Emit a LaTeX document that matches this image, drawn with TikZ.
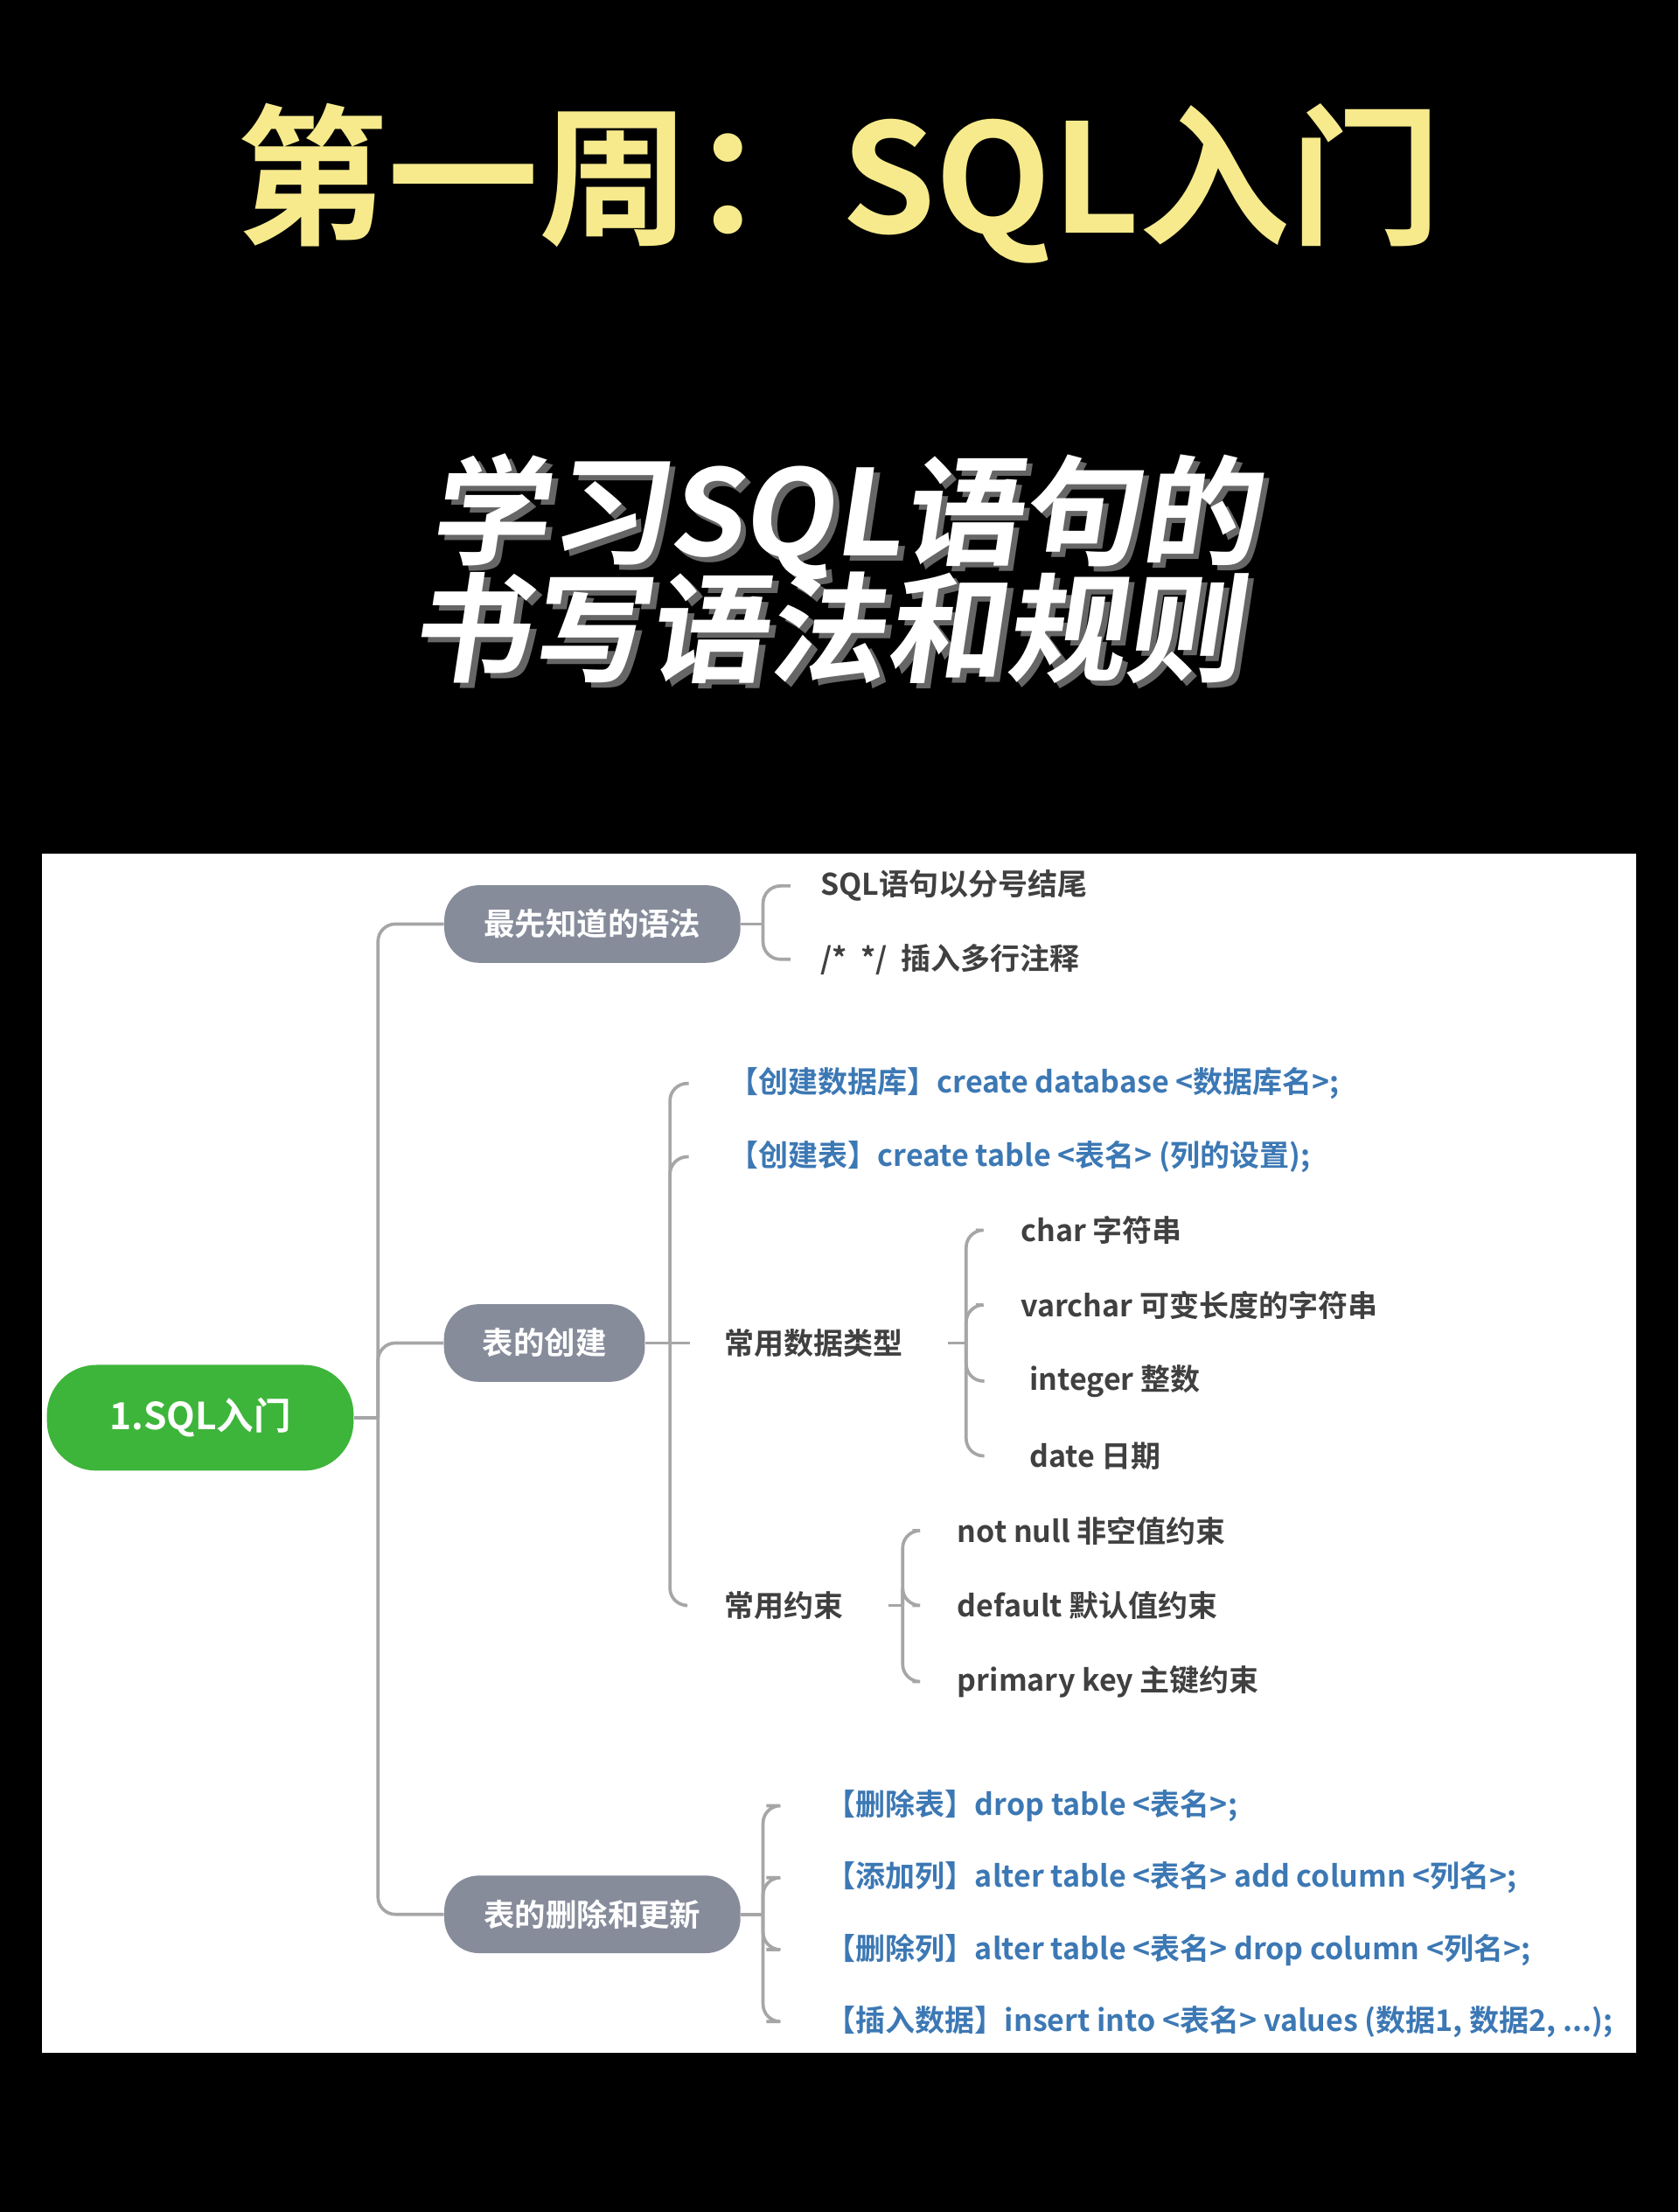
\documentclass[tikz,border=0pt]{standalone}
\usepackage{fontspec}
\setmainfont{Noto Sans CJK SC}
\newfontfamily\cjkb[BoldFont=* Bold]{Noto Sans CJK SC}
\begin{document}
\begin{tikzpicture}[x=0.02cm,y=-0.02cm,
  gnode/.style={fill=nodegrey, rounded corners=14pt, text=white, font=\cjkb\bfseries\fontsize{12.5}{14}\selectfont, minimum height=1.1cm, inner xsep=10pt},
  item/.style={anchor=west, text=black!75, font=\cjkb\bfseries\fontsize{12}{14}\selectfont, inner sep=2pt},
  bitem/.style={item, text=itemblue},
  ln/.style={draw=gray!70, line width=1.3pt, rounded corners=7pt}]
\definecolor{ttl}{HTML}{F6EA8C}
\definecolor{nodegrey}{HTML}{878C9B}
\definecolor{itemblue}{HTML}{3C78B4}
\definecolor{rootgreen}{HTML}{3DB53A}
\fill[black] (0,0) rectangle (1190,1568);
\useasboundingbox (0,0) rectangle (1190,1568);
\node[text=ttl, font=\cjkb\bfseries\fontsize{61}{63}\selectfont] (t1) at (595,130) {第一周：SQL入门};
\node[text=black!60, font=\cjkb\bfseries\fontsize{48}{50}\selectfont, xslant=0.15, align=center] at (601,407) {学习SQL语句的\\[-4pt]书写语法和规则};
\node[text=white, font=\cjkb\bfseries\fontsize{48}{50}\selectfont, xslant=0.15, align=center] (t2) at (597,403) {学习SQL语句的\\[-4pt]书写语法和规则};
\fill[white] (30,605) rectangle (1160,1455);
% root
\node[fill=rootgreen, text=white, rounded corners=20pt, minimum width=4.35cm, minimum height=1.5cm, font=\cjkb\bfseries\fontsize{15}{16}\selectfont] (root) at (142,1005) {1.SQL入门};
\node[gnode, minimum width=4.2cm] (n1) at (420,655) {最先知道的语法};
\node[gnode, minimum width=2.85cm] (n2) at (386,952) {表的创建};
\node[gnode, minimum width=4.2cm] (n3) at (420,1357) {表的删除和更新};
\coordinate (rb) at (268,1005);
\draw[ln] (root.east) -- (rb);
\foreach \n in {n1,n2,n3} \draw[ln] (rb) |- (\n.west);
% n1
\node[item] (a1) at (578,628) {SQL语句以分号结尾};
\node[item] (a2) at (578,680) {/*\ \ */\ \ 插入多行注释};
\coordinate (b1) at (541,655);
\draw[ln] (n1.east) -- (b1);
\foreach \c in {a1,a2} \draw[ln] (b1) |- ([xshift=-10pt]\c.west);
% n2
\node[bitem] (c1) at (513,768) {【创建数据库】create database <数据库名>;};
\node[bitem] (c2) at (513,820) {【创建表】create table <表名> (列的设置);};
\node[item] (c3) at (510,952) {常用数据类型};
\node[item] (c4) at (510,1138) {常用约束};
\coordinate (b2) at (475,952);
\draw[ln] (n2.east) -- (b2);
\foreach \c in {c1,c2,c4} \draw[ln] (b2) |- ([xshift=-14pt]\c.west);
\draw[ln] (b2) -- ([xshift=-12pt]c3.west);
% types
\node[item] (d1) at (720,872) {char 字符串};
\node[item] (d2) at (720,925) {varchar 可变长度的字符串};
\node[item] (d3) at (726,979) {integer 整数};
\node[item] (d4) at (726,1032) {date 日期};
\coordinate (b3) at (685,952);
\draw[ln] ([xshift=16pt]c3.east) -- (b3);
\foreach \c in {d1,d2,d3,d4} \draw[ln] (b3) |- ([xshift=-16pt]\c.west);
% constraints
\node[item] (e1) at (675,1085) {not null 非空值约束};
\node[item] (e2) at (675,1138) {default 默认值约束};
\node[item] (e3) at (675,1192) {primary key 主键约束};
\coordinate (b4) at (640,1138);
\draw[ln] ([xshift=16pt]c4.east) -- (b4);
\foreach \c in {e1,e2,e3} \draw[ln] (b4) |- ([xshift=-16pt]\c.west);
% n3
\node[bitem] (f1) at (582,1280) {【删除表】drop table <表名>;};
\node[bitem] (f2) at (582,1331) {【添加列】alter table <表名> add column <列名>;};
\node[bitem] (f3) at (582,1382) {【删除列】alter table <表名> drop column <列名>;};
\node[bitem] (f4) at (582,1433) {【插入数据】insert into <表名> values (数据1, 数据2, ...);};
\coordinate (b5) at (541,1357);
\draw[ln] (n3.east) -- (b5);
\foreach \c in {f1,f2,f3,f4} \draw[ln] (b5) |- ([xshift=-22pt]\c.west);
\end{tikzpicture}
\end{document}
